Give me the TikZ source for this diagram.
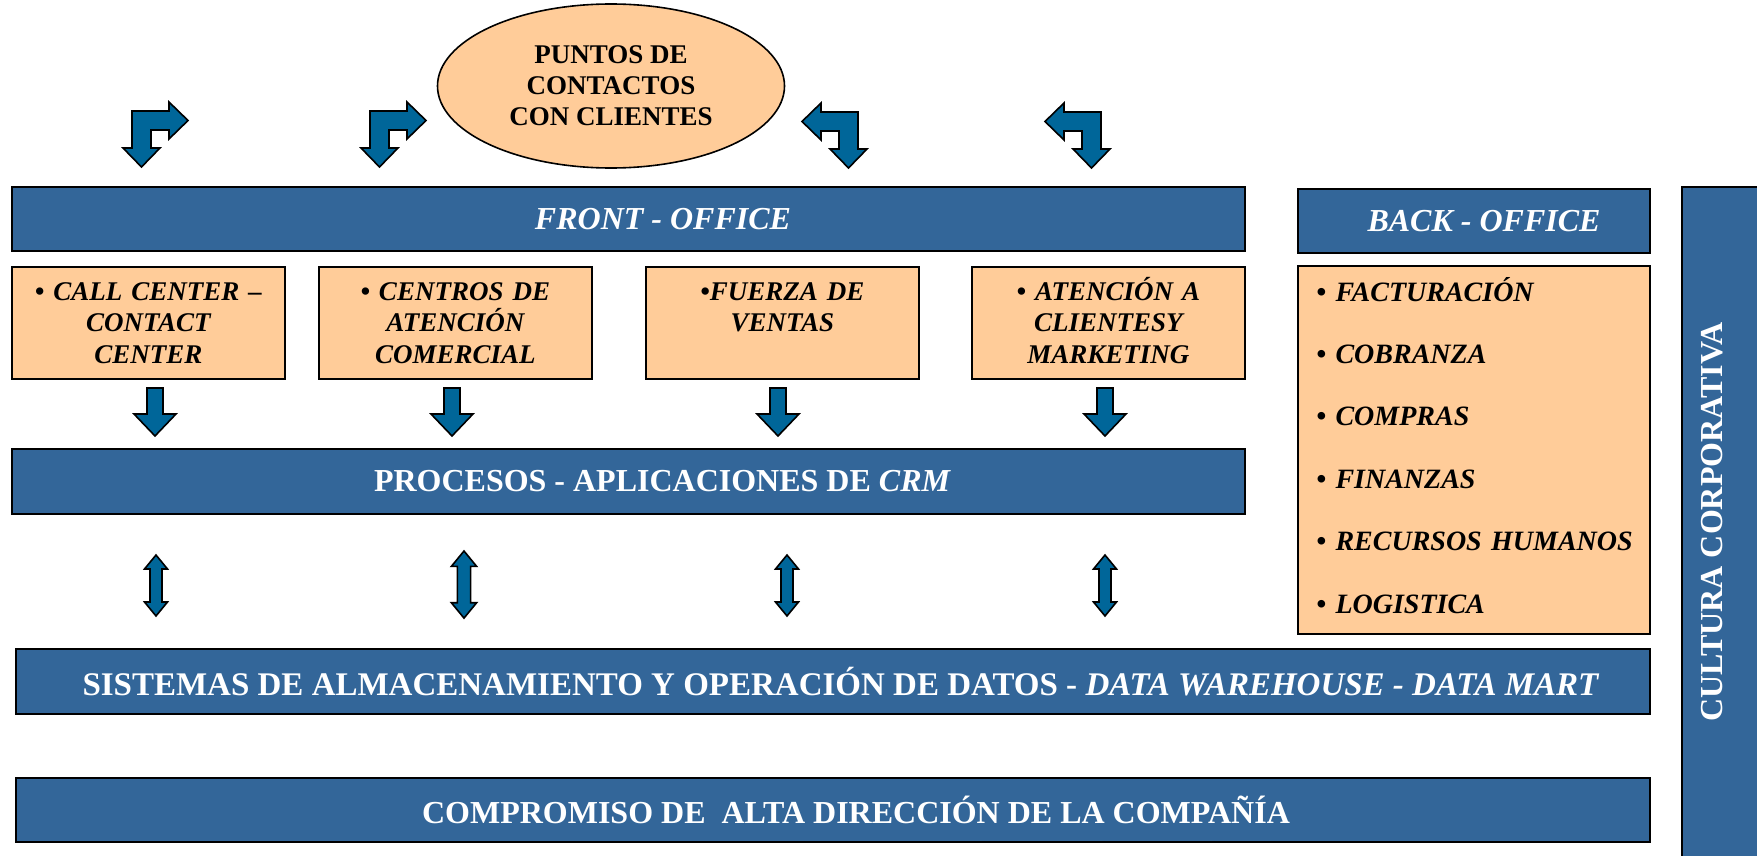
\documentclass[tikz,border=0pt]{standalone}
\usepackage{fontspec}
\setmainfont{Liberation Serif}
\usetikzlibrary{positioning, shapes.geometric, calc}

\definecolor{barblue}{RGB}{51,102,153}
\definecolor{arrblue}{RGB}{0,102,153}
\definecolor{boxorange}{RGB}{255,204,153}

\begin{document}
\begin{tikzpicture}[x=0.5pt, y=-0.5pt,
	bar/.style={draw=black, line width=1pt, fill=barblue, anchor=north west, inner sep=0pt, minimum height=32pt},
	bartxt/.style={text=white, inner sep=0pt, font=\bfseries\fontsize{16}{19}\selectfont},
	itbartxt/.style={text=white, inner sep=0pt, font=\bfseries\itshape\fontsize{16}{19}\selectfont},
	ornbox/.style={draw=black, line width=0.8pt, fill=boxorange, anchor=north west, inner sep=0pt, minimum width=136.5pt, minimum height=56pt},
	boxtxt/.style={anchor=base, yshift=-17pt, text width=134pt, align=center, inner sep=0pt, font=\bfseries\itshape\fontsize{13.5}{15.8}\selectfont},
	arrblk/.style={draw=black, line width=0.8pt, fill=arrblue, line join=miter},
	bentarr/.pic={\draw[arrblk] (9,9) -- (46,9) -- (46,0) -- (65,18.5) -- (46,37) -- (46,28) -- (28,28) -- (28,46) -- (37,46) -- (18.5,65) -- (0,46) -- (9,46) -- cycle;},
	downarr/.pic={\draw[arrblk] (-8,0) -- (8,0) -- (8,26) -- (21,26) -- (0,48) -- (-21,26) -- (-8,26) -- cycle;},
	dblarr/.pic={\draw[arrblk] (0,0) -- (11.5,14) -- (6,14) -- (6,47) -- (11.5,47) -- (0,61) -- (-11.5,47) -- (-6,47) -- (-6,14) -- (-11.5,14) -- cycle;}
	]
	\useasboundingbox (0,0) rectangle (1757,856);

	\node[ellipse, draw=black, line width=0.8pt, fill=boxorange, minimum width=173.5pt, minimum height=82pt, align=center, font=\bfseries\fontsize{13.5}{15.5}\selectfont] (puntos) at (611,86) {PUNTOS DE\\CONTACTOS\\CON CLIENTES};

	\pic at (123,102) {bentarr};
	\pic at (361,102) {bentarr};
	\pic[xscale=-1] at (867,103) {bentarr};
	\pic[xscale=-1] at (1110,103) {bentarr};

	\node[bar, minimum width=616.5pt, label={[itbartxt, xshift=17.25pt]center:{FRONT - OFFICE}}] (front) at (11,186) {};
	\node[bar, minimum width=176pt, label={[itbartxt, xshift=5pt]center:{BACK - OFFICE}}] (back) at (1297,188) {};
	\node[bar, minimum width=50pt, minimum height=350pt, label={[bartxt, xshift=-10pt, yshift=7.5pt, rotate=90]center:{CULTURA CORPORATIVA}}] (cultura) at (1681,186) {};

	\node[ornbox, label={[boxtxt]north:{• CALL CENTER --\\CONTACT\\CENTER}}] (callc) at (11,266) {};
	\node[ornbox, label={[boxtxt]north:{• CENTROS DE\\ATENCIÓN\\COMERCIAL}}] (centros) at (318,266) {};
	\node[ornbox, label={[boxtxt]north:{•FUERZA DE\\VENTAS}}] (fuerza) at (645,266) {};
	\node[ornbox, label={[boxtxt]north:{• ATENCIÓN A\\CLIENTESY\\MARKETING}}] (atencion) at (971,266) {};
	\node[ornbox, minimum width=176pt, minimum height=184pt, label={[anchor=base west, xshift=9.5pt, yshift=-18pt, text width=170pt, align=left, inner sep=0pt, font=\bfseries\itshape\fontsize{14}{31.2}\selectfont]north west:{• FACTURACIÓN\\• COBRANZA\\• COMPRAS\\• FINANZAS\\• RECURSOS HUMANOS\\• LOGISTICA}}] (backlist) at (1297,265) {};

	\pic at (155,388) {downarr};
	\pic at (452,388) {downarr};
	\pic at (778,388) {downarr};
	\pic at (1105,388) {downarr};

	\node[bar, minimum width=616.5pt, minimum height=32.5pt, label={[bartxt, xshift=17pt]center:{PROCESOS - APLICACIONES DE \textit{CRM}}}] (procesos) at (11,448) {};

	\pic at (156,555) {dblarr};
	\pic[scale=1.1] at (464,551) {dblarr};
	\pic at (787,555) {dblarr};
	\pic at (1105,555) {dblarr};

	\node[bar, minimum width=817pt, minimum height=32.5pt, label={[bartxt, xshift=4pt, font=\bfseries\fontsize{16.5}{19}\selectfont]center:{SISTEMAS DE ALMACENAMIENTO Y OPERACIÓN DE DATOS - \textit{DATA WAREHOUSE - DATA MART}}}] (sistemas) at (15,648) {};
	\node[bar, minimum width=817pt, label={[bartxt, xshift=11.5pt]center:{COMPROMISO DE \ ALTA DIRECCIÓN DE LA COMPAÑÍA}}] (compromiso) at (15,777) {};
\end{tikzpicture}
\end{document}
